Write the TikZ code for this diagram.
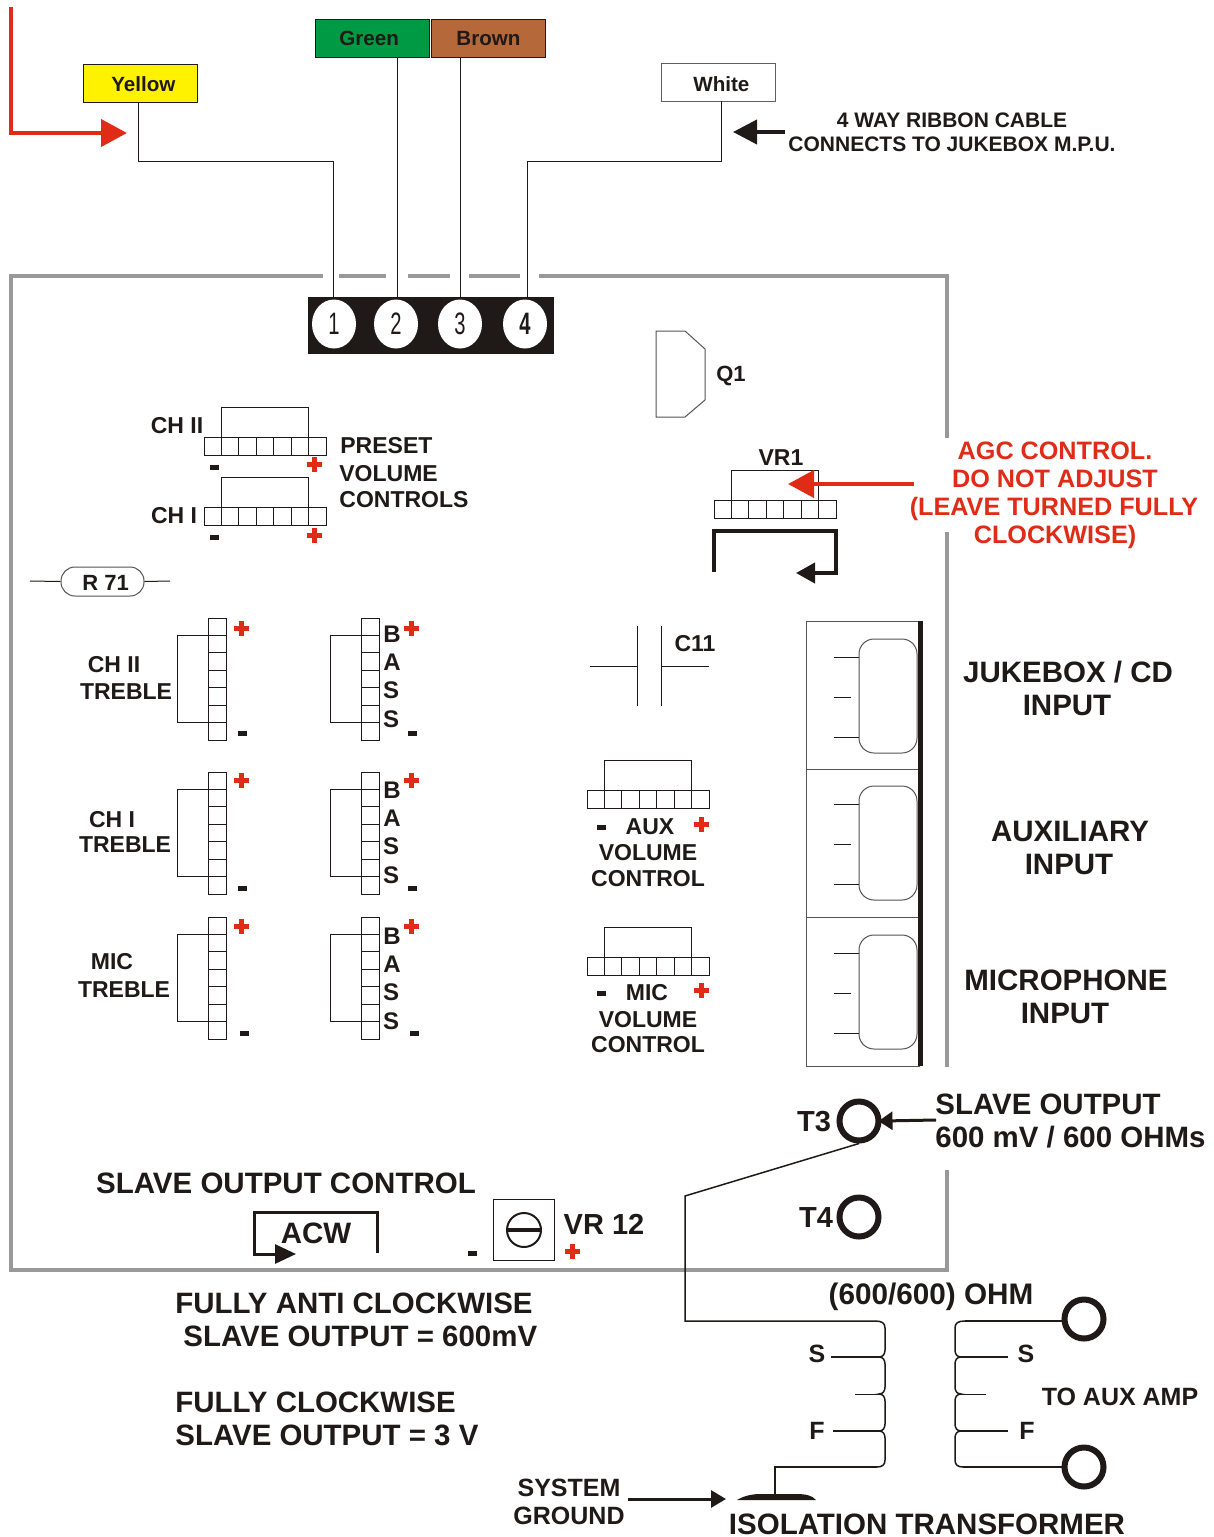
\documentclass[tikz,border=0pt]{standalone}
\usepackage{fontspec}
\usepackage{graphicx}
\setmainfont{Liberation Sans}
\usetikzlibrary{arrows.meta,shapes.geometric}
\definecolor{ink}{HTML}{1F1A17}
\definecolor{frameg}{HTML}{999999}
\definecolor{redm}{HTML}{E02B17}
\definecolor{greenm}{HTML}{009944}
\definecolor{brownm}{HTML}{B5693B}
\newcommand\lowered[2]{\raisebox{-#1}[7pt][0pt]{#2}}
\tikzset{
  lab/.style={inner sep=0pt,text=ink,font=\fontsize{\fpeval{#1*0.5}}{\fpeval{#1*0.5}}\selectfont\bfseries,text height=0.358pt*#1,text depth=0pt},
  redlab/.style={lab=#1,text=redm},
  left lab/.style={lab=#1,anchor=west},
  colbox/.style={draw=ink,line width=.5pt,minimum width=57pt,minimum height=19pt,inner sep=0pt,text=ink,font=\fontsize{10.3}{10.3}\selectfont\bfseries},
  thin line/.style={draw=ink,line width=.5pt},
  gline/.style={draw=ink!75!white,line width=.5pt},
  frame line/.style={draw=frameg,line width=2.3pt},
  heavy/.style={draw=ink,line width=2pt},
  wire/.style={draw=ink,line width=.75pt},
  ring/.style={circle,draw=ink,line width=3pt,minimum size=19.5pt,inner sep=0pt},
  pad/.style={ellipse,fill=white,minimum width=22pt,minimum height=24.5pt,inner sep=0pt,text=ink,font=\fontsize{15.5}{15.5}\selectfont},
  redarrow/.style={draw=redm,line width=2pt,-{Triangle[length=13pt,width=13.5pt,fill=redm]}},
  blackarrow/.style={draw=ink,line width=2pt,-{Triangle[length=12pt,width=12pt,fill=ink]}},
  tinyarrow/.style={draw=ink,line width=1.5pt,-{Triangle[length=7pt,width=9pt,fill=ink]}},
}
\newcommand\hstrip[2]{% x of left, y of top of strip
  \draw[thin line] (#1,#2) rectangle ++(122,18.5);
  \foreach \i in {1,...,6} \draw[thin line] ({#1+\i*17.43},#2) -- ++(0,18.5);
  \draw[thin line] ({#1+17.4},#2) -- ++(0,-30) -- ++(87.2,0) -- ++(0,30);
}
\newcommand\vstrip[2]{% x of left of strip, y of top
  \draw[thin line] (#1,#2) rectangle ++(18,122);
  \foreach \i in {1,...,6} \draw[thin line] (#1,{#2+\i*17.43}) -- ++(18,0);
  \draw[thin line] (#1,{#2+17.4}) -- ++(-30.5,0) -- ++(0,87.2) -- ++(30.5,0);
}
\newcommand\redplus[2]{%
  \fill[redm] ({#1-7.5},{#2-2.5}) rectangle ({#1+7.5},{#2+2.5});
  \fill[redm] ({#1-2.5},{#2-7.5}) rectangle ({#1+2.5},{#2+7.5});
}
\newcommand\blackminus[2]{\fill[ink] ({#1-4.5},{#2-2.5}) rectangle ({#1+4.5},{#2+2.5});}
\newcommand\jack[1]{% y of top of rounded body
  \draw[gline,rounded corners=7.5pt] (859,#1) rectangle (917,{#1+114});
  \draw[thin line] (834,{#1+18}) -- (859,{#1+18});
  \draw[thin line] (834,{#1+58}) -- (851,{#1+58});
  \draw[thin line] (834,{#1+98}) -- (859,{#1+98});
}
\newcommand\coilshape{%
  \draw[wire] (875,1321) .. controls (882,1321) and (885,1323) .. (885,1328) -- (885,1350)
    .. controls (885,1354) and (883,1357) .. (879,1357)
    .. controls (883,1357) and (885,1360) .. (885,1364) -- (885,1387)
    .. controls (885,1391) and (883,1394) .. (879,1394)
    .. controls (883,1394) and (885,1397) .. (885,1401) -- (885,1424)
    .. controls (885,1428) and (883,1431) .. (879,1431)
    .. controls (883,1431) and (885,1434) .. (885,1438) -- (885,1460)
    .. controls (885,1465) and (882,1467) .. (877,1467);
}
\begin{document}
\begin{tikzpicture}[x=.5pt,y=-.5pt]
\useasboundingbox (0,0) rectangle (1214,1537);
\fill[white] (0,0) rectangle (1214,1537);

% board outline
\draw[frame line] (323,276) -- (11,276) -- (11,1270) -- (947,1270) -- (947,1170);
\draw[frame line] (339,276) -- (386,276);
\draw[frame line] (408,276) -- (450,276);
\draw[frame line] (469,276) -- (520,276);
\draw[frame line] (539,276) -- (947,276) -- (947,438);
\draw[frame line] (947,532) -- (947,1067);

% terminal block and pads
\node[fill=ink,minimum width=123pt,minimum height=28.5pt,inner sep=0pt] (block) at (431,325.5) {};
\node[pad] (p1) at (334,324) {\scalebox{.65}[1]{1}};
\node[pad] (p2) at (396,324) {\scalebox{.65}[1]{2}};
\node[pad] (p3) at (460,324) {\scalebox{.65}[1]{3}};
\node[pad,font=\fontsize{15.5}{15.5}\selectfont\bfseries] (p4) at (525,324) {\scalebox{.65}[1]{4}};

% cable labels
\node[colbox,fill=yellow] (yellowbox) at (140.5,83.5) {\ \lowered{.3pt}{Yellow}};
\node[colbox,fill=greenm] (greenbox) at (372,38) {\lowered{.4pt}{Green}\ \ };
\node[colbox,fill=brownm] (brownbox) at (488.5,38) {\lowered{.4pt}{Brown}};
\node[colbox,fill=white,draw=ink!70!white] (whitebox) at (718.5,82) {\ \lowered{1.4pt}{White}};

\coordinate (yw) at (138,102);
\coordinate (wp1) at (333,297);
\coordinate (wp4) at (527,297);
\coordinate (wh) at (721,101);
\coordinate (gr) at (397,57);
\coordinate (gp) at (397,297);
\coordinate (br) at (460,57);
\coordinate (bp) at (460,297);
\draw[thin line] (yw) |- (333,161) -- (wp1);
\draw[thin line] (gr) -- (gp);
\draw[thin line] (br) -- (bp);
\draw[thin line] (wh) |- (527,161) -- (wp4);

% red arrow to Yellow
\coordinate (redstart) at (11,7);
\coordinate (redtip) at (127,133);
\draw[redarrow] (redstart) |- (redtip);

% ribbon note
\coordinate (ribstart) at (785,132);
\coordinate (ribtip) at (733,132);
\draw[blackarrow] (ribstart) -- (ribtip);
\node[lab=21] (rib1) at (952,120) {4 WAY RIBBON CABLE};
\node[lab=21] (rib2) at (952,144) {CONNECTS TO JUKEBOX M.P.U.};

% Q1
\draw[gline] (656,331) -- (685,331) -- (705,349) -- (705,400) -- (685,417) -- (656,417) -- cycle;
\node[lab=22] (q1) at (731,374) {Q1};

% preset controls
\hstrip{204}{437}
\hstrip{204}{507}
\blackminus{214}{467}\redplus{314}{464}
\blackminus{214}{537}\redplus{314}{535}
\node[lab=23] (chii) at (177,425) {CH II};
\node[lab=23] (chi) at (174,515) {CH I};
\node[left lab=23] (preset) at (340,445) {PRESET};
\node[left lab=23] (volume) at (339,473) {VOLUME};
\node[left lab=23] (controls) at (339,499) {CONTROLS};

% VR1
\hstrip{714}{500}
\node[lab=23] (vr1) at (781,457) {VR1};
\coordinate (agcstart) at (914,484);
\coordinate (agctip) at (788,484);
\draw[redarrow] (agcstart) -- (agctip);
\coordinate (loopa) at (714,572);
\coordinate (loopb) at (796,573);
\draw[heavy,line width=2pt,-{Triangle[length=9.5pt,width=10pt,fill=ink]}] (loopa) -- (714,531) -- (836,531) -- (836,573) -- (loopb);
\node[redlab=25.2] (agc1) at (1055,450.4) {AGC CONTROL.};
\node[redlab=25.2] (agc2) at (1055,478.4) {DO NOT ADJUST};
\node[redlab=25.2] (agc3) at (1054,506.4) {(LEAVE TURNED FULLY};
\node[redlab=25.2] (agc4) at (1055,534.4) {CLOCKWISE)};

% R71
\node[draw=ink!75!white,line width=.5pt,rounded corners=7pt,minimum width=41.5pt,minimum height=14.5pt,inner sep=0pt,text=ink,font=\fontsize{11}{11}\selectfont\bfseries] (r71) at (102.5,581.5) {\ \lowered{1pt}{R 71}};
\coordinate (rl) at (30,581);
\coordinate (rr) at (170,581);
\draw[thin line] (rl) -- (r71.west);
\draw[thin line] (r71.east) -- (rr);

% treble and bass
\vstrip{208}{618}\vstrip{361}{618}
\vstrip{208}{772}\vstrip{361}{772}
\vstrip{208}{917}\vstrip{361}{917}
\redplus{241}{628}\blackminus{242}{733}\redplus{411}{628}\blackminus{412}{733}
\redplus{241}{780}\blackminus{242}{888}\redplus{411}{780}\blackminus{412}{888}
\redplus{241}{926}\blackminus{244}{1033}\redplus{411}{926}\blackminus{414}{1033}
\node[lab=23] (t1a) at (114,664) {CH II};
\node[lab=23] (t1b) at (126,691) {TREBLE};
\node[lab=23] (t2a) at (112,819) {CH I};
\node[lab=23] (t2b) at (125,844) {TREBLE};
\node[lab=23] (t3a) at (112,961) {MIC};
\node[lab=23] (t3b) at (124,989) {TREBLE};
\node[lab=24] (b1) at (392,634) {B};
\node[lab=24] (b2) at (392,662) {A};
\node[lab=24] (b3) at (391,690) {S};
\node[lab=24] (b4) at (391,719) {S};
\node[lab=24] (b5) at (392,790) {B};
\node[lab=24] (b6) at (392,818) {A};
\node[lab=24] (b7) at (391,846) {S};
\node[lab=24] (b8) at (391,875) {S};
\node[lab=24] (b9) at (392,936) {B};
\node[lab=24] (b10) at (392,964) {A};
\node[lab=24] (b11) at (391,992) {S};
\node[lab=24] (b12) at (391,1021) {S};

% C11
\draw[thin line] (590,666) -- (637,666);
\draw[thin line] (637,626) -- (637,706);
\draw[thin line] (661,626) -- (661,706);
\draw[thin line] (661,666) -- (709,666);
\node[lab=23] (c11) at (695,643) {C11};

% AUX and MIC volume
\hstrip{587}{790}
\hstrip{587}{957}
\blackminus{601}{827}\redplus{701}{824}
\blackminus{601}{993}\redplus{701}{990}
\node[lab=23] (aux) at (650,826) {AUX};
\node[lab=23] (auxv) at (648,852) {VOLUME};
\node[lab=23] (auxc) at (648,878) {CONTROL};
\node[lab=23] (mic) at (647,992) {MIC};
\node[lab=23] (micv) at (648,1019) {VOLUME};
\node[lab=23] (micc) at (648,1044) {CONTROL};

% jacks
\draw[gline] (920,621) -- (806,621) -- (806,1066) -- (920,1066);
\draw[gline] (806,769) -- (920,769);
\draw[gline] (806,917) -- (920,917);
\draw[draw=ink,line width=2.5pt] (920,621) -- (920,1066);
\jack{639}\jack{786}\jack{935}
\node[lab=29.5] (j1) at (1068,672) {JUKEBOX / CD};
\node[lab=29.5] (j2) at (1067,705) {INPUT};
\node[lab=29.5] (j3) at (1070,831) {AUXILIARY};
\node[lab=29.5] (j4) at (1069,864) {INPUT};
\node[lab=29.5] (j5) at (1066,980) {MICROPHONE};
\node[lab=29.5] (j6) at (1065,1013) {INPUT};

% T3 / T4
\node[ring] (t3) at (859,1121) {};
\node[ring] (t4) at (859,1217) {};
\node[lab=29] (t3l) at (814,1121) {T3};
\node[lab=29] (t4l) at (816,1217) {T4};
\coordinate (slavefrom) at (936,1120);
\draw[tinyarrow,shorten >=-1.5pt] (slavefrom) -- (t3.east);
\node[left lab=29.45] (so1) at (935,1104) {SLAVE OUTPUT};
\node[left lab=29.45] (so2) at (935,1137) {600 mV / 600 OHMs};

% slave control
\node[lab=29.5] (soc) at (286,1183) {SLAVE OUTPUT CONTROL};
\coordinate (acwa) at (377,1253);
\coordinate (acwb) at (296,1254);
\draw[draw=ink,line width=1.5pt,-{Triangle[length=10.5pt,width=9.5pt,fill=ink]}] (acwa) -- (377,1212) -- (254,1212) -- (254,1254) -- (acwb);
\node[lab=29.5] (acw) at (316,1233) {ACW};
\blackminus{472}{1253}
\node[draw=ink,line width=.5pt,minimum width=30.5pt,minimum height=30.5pt,inner sep=0pt] (vrbox) at (523.5,1229.5) {};
\node[circle,draw=ink,line width=1pt,minimum size=17pt,inner sep=0pt] (vrknob) at (524,1230) {};
\draw[draw=ink,line width=2pt] (vrknob.west) -- (vrknob.east);
\node[lab=29] (vr12) at (604,1224) {VR 12};
\redplus{572}{1251}

% notes
\node[left lab=29.45] (n1) at (175,1303) {FULLY ANTI CLOCKWISE};
\node[left lab=29.45] (n2) at (183,1336) {SLAVE OUTPUT = 600mV};
\node[left lab=29.45] (n3) at (175,1402) {FULLY CLOCKWISE};
\node[left lab=29.45] (n4) at (175,1435) {SLAVE OUTPUT = 3 V};

% transformer
\node[lab=29.7] (ohm) at (931,1294) {(600/600) OHM};
\coilshape
\begin{scope}[shift={(1840,0)},xscale=-1]
\coilshape
\end{scope}
\node[ring] (out1) at (1084,1319) {};
\node[ring] (out2) at (1084,1467) {};
\coordinate (cta) at (875,1321);
\coordinate (ctb) at (877,1467);
\coordinate (rta) at (965,1321);
\coordinate (rtb) at (963,1467);
\draw[wire] (t3.south) -- (685,1196) -- (685,1321) -- (cta);
\draw[wire] (rta) -- (out1.west |- rta);
\draw[wire] (rtb) -- (out2.west);
\coordinate (s1) at (831,1357);\coordinate (s1e) at (879,1357);
\coordinate (m1) at (855,1394);\coordinate (m1e) at (879,1394);
\coordinate (f1) at (833,1431);\coordinate (f1e) at (879,1431);
\coordinate (s2) at (1008,1357);\coordinate (s2e) at (961,1357);
\coordinate (m2) at (986,1394);\coordinate (m2e) at (961,1394);
\coordinate (f2) at (1008,1431);\coordinate (f2e) at (961,1431);
\draw[draw=ink,line width=1pt] (s1) -- (s1e);
\draw[thin line] (m1) -- (m1e);
\draw[draw=ink,line width=1pt] (f1) -- (f1e);
\draw[draw=ink,line width=1pt] (s2) -- (s2e);
\draw[thin line] (m2) -- (m2e);
\draw[draw=ink,line width=1pt] (f2) -- (f2e);
\node[lab=25] (sl) at (817,1354) {S};
\node[lab=25] (fl) at (817,1431) {F};
\node[lab=25] (sr) at (1026,1354) {S};
\node[lab=25] (fr) at (1027,1431) {F};
\node[lab=25] (aamp) at (1120,1397) {TO AUX AMP};

% ground
\coordinate (gtop) at (775,1495);
\draw[wire] (ctb) -- (775,1467) -- (gtop);
\fill[ink] (737,1500) .. controls (745,1495) and (755,1494) .. (760,1494) -- (795,1494) .. controls (805,1494) and (812,1495) .. (816,1500) -- cycle;
\node[lab=25] (sys) at (569,1488) {SYSTEM};
\node[lab=25] (gnd) at (569,1516) {GROUND};
\coordinate (gfrom) at (628,1499);
\coordinate (gto) at (726,1499);
\draw[draw=ink,line width=1.5pt,-{Triangle[length=7.5pt,width=8.5pt,fill=ink]}] (gfrom) -- (gto);
\node[lab=29.5] (iso) at (927,1524) {ISOLATION TRANSFORMER};
\end{tikzpicture}
\end{document}
